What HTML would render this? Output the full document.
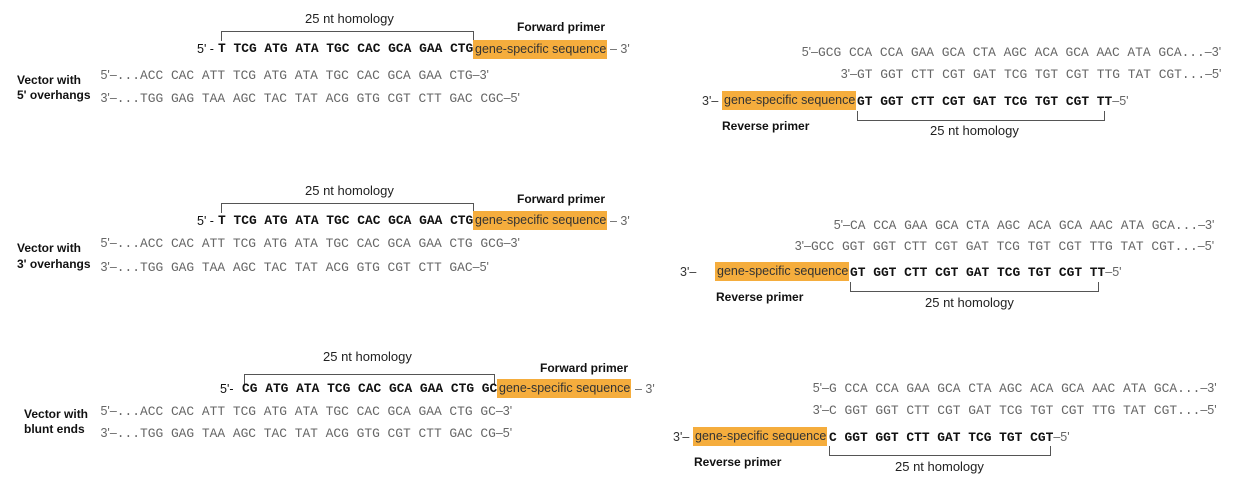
<!DOCTYPE html>
<html><head><meta charset="utf-8"><style>
html,body{margin:0;padding:0;background:#fff;}
body{width:1247px;height:480px;position:relative;overflow:hidden;font-family:"Liberation Sans",sans-serif;}
.t{position:absolute;white-space:pre;line-height:16px;font-size:12.5px;color:#444;}
.m{font-family:"Liberation Mono",monospace;font-size:12.9px;}
.g{color:#666;}
.b{font-weight:bold;color:#111;}
.lab{position:absolute;font-weight:bold;font-size:12px;color:#111;line-height:15px;white-space:pre;}
.box{position:absolute;background:#F5AD3D;color:#333;font-size:12.5px;line-height:19px;height:19px;white-space:pre;padding-left:2px;box-sizing:border-box;}
.br{position:absolute;border:1.3px solid #555;box-sizing:border-box;}
.brt{border-bottom:none;}
.brb{border-top:none;}
.h{position:absolute;font-size:13px;color:#222;white-space:pre;}
</style></head><body>

<!-- LEFT PANEL 1 -->
<div class="h" style="left:305px;top:11px">25 nt homology</div>
<div class="br brt" style="left:221px;top:31px;width:253px;height:10px"></div>
<div class="lab" style="left:517px;top:20px">Forward primer</div>
<div class="t" style="left:197px;top:41px;color:#111">5' - </div>
<div class="t m b" style="left:218px;top:41px">T TCG ATG ATA TGC CAC GCA GAA CTG</div>
<div class="box" style="left:473px;top:40px;width:134px">gene-specific sequence</div>
<div class="t g" style="left:610px;top:41px">– 3'</div>
<div class="t g" style="right:1107px;top:67px">5'–<span class="m">...</span></div>
<div class="t g" style="left:140px;top:67px"><span class="m">ACC CAC ATT TCG ATG ATA TGC CAC GCA GAA CTG</span>–3'</div>
<div class="t g" style="right:1107px;top:90px">3'–<span class="m">...</span></div>
<div class="t g" style="left:140px;top:90px"><span class="m">TGG GAG TAA AGC TAC TAT ACG GTG CGT CTT GAC CGC</span>–5'</div>
<div class="lab" style="left:17px;top:73px">Vector with</div>
<div class="lab" style="left:17px;top:88px">5' overhangs</div>

<!-- LEFT PANEL 2 -->
<div class="h" style="left:305px;top:183px">25 nt homology</div>
<div class="br brt" style="left:221px;top:203px;width:253px;height:10px"></div>
<div class="lab" style="left:517px;top:192px">Forward primer</div>
<div class="t" style="left:197px;top:213px;color:#111">5' - </div>
<div class="t m b" style="left:218px;top:213px">T TCG ATG ATA TGC CAC GCA GAA CTG</div>
<div class="box" style="left:473px;top:211px;width:134px">gene-specific sequence</div>
<div class="t g" style="left:610px;top:213px">– 3'</div>
<div class="t g" style="right:1107px;top:235px">5'–<span class="m">...</span></div>
<div class="t g" style="left:140px;top:235px"><span class="m">ACC CAC ATT TCG ATG ATA TGC CAC GCA GAA CTG GCG</span>–3'</div>
<div class="t g" style="right:1107px;top:259px">3'–<span class="m">...</span></div>
<div class="t g" style="left:140px;top:259px"><span class="m">TGG GAG TAA AGC TAC TAT ACG GTG CGT CTT GAC</span>–5'</div>
<div class="lab" style="left:17px;top:241px">Vector with</div>
<div class="lab" style="left:17px;top:257px">3' overhangs</div>

<!-- LEFT PANEL 3 -->
<div class="h" style="left:323px;top:349px">25 nt homology</div>
<div class="br brt" style="left:244px;top:374px;width:251px;height:10px"></div>
<div class="lab" style="left:540px;top:361px">Forward primer</div>
<div class="t" style="left:220px;top:381px;color:#111">5'-</div>
<div class="t m b" style="left:242px;top:381px">CG ATG ATA TCG CAC GCA GAA CTG GC</div>
<div class="box" style="left:497px;top:379px;width:134px">gene-specific sequence</div>
<div class="t g" style="left:635px;top:381px">– 3'</div>
<div class="t g" style="right:1107px;top:403px">5'–<span class="m">...</span></div>
<div class="t g" style="left:140px;top:403px"><span class="m">ACC CAC ATT TCG ATG ATA TGC CAC GCA GAA CTG GC</span>–3'</div>
<div class="t g" style="right:1107px;top:425px">3'–<span class="m">...</span></div>
<div class="t g" style="left:140px;top:425px"><span class="m">TGG GAG TAA AGC TAC TAT ACG GTG CGT CTT GAC CG</span>–5'</div>
<div class="lab" style="left:24px;top:407px">Vector with</div>
<div class="lab" style="left:24px;top:422px">blunt ends</div>

<!-- RIGHT PANEL 1 -->
<div class="t g" style="right:429px;top:44px">5'–</div>
<div class="t g" style="left:818px;top:44px"><span class="m">GCG CCA CCA GAA GCA CTA AGC ACA GCA AAC ATA GCA...</span>–3'</div>
<div class="t g" style="right:390px;top:66px">3'–</div>
<div class="t g" style="left:857px;top:66px"><span class="m">GT GGT CTT CGT GAT TCG TGT CGT TTG TAT CGT...</span>–5'</div>
<div class="t" style="left:702px;top:93px;color:#333">3'–</div>
<div class="box" style="left:722px;top:91px;width:134px">gene-specific sequence</div>
<div class="t m b" style="left:857px;top:93px">GT GGT CTT CGT GAT TCG TGT CGT TT<span style="font-family:'Liberation Sans';font-weight:normal;color:#666;font-size:12.5px">–5'</span></div>
<div class="br brb" style="left:857px;top:111px;width:248px;height:10px"></div>
<div class="lab" style="left:722px;top:119px">Reverse primer</div>
<div class="h" style="left:930px;top:123px">25 nt homology</div>

<!-- RIGHT PANEL 2 -->
<div class="t g" style="right:397px;top:217px">5'–</div>
<div class="t g" style="left:850px;top:217px"><span class="m">CA CCA GAA GCA CTA AGC ACA GCA AAC ATA GCA...</span>–3'</div>
<div class="t g" style="right:436px;top:238px">3'–</div>
<div class="t g" style="left:811px;top:238px"><span class="m">GCC GGT GGT CTT CGT GAT TCG TGT CGT TTG TAT CGT...</span>–5'</div>
<div class="t" style="left:680px;top:264px;color:#333">3'–</div>
<div class="box" style="left:715px;top:262px;width:134px">gene-specific sequence</div>
<div class="t m b" style="left:850px;top:264px">GT GGT CTT CGT GAT TCG TGT CGT TT<span style="font-family:'Liberation Sans';font-weight:normal;color:#666;font-size:12.5px">–5'</span></div>
<div class="br brb" style="left:850px;top:282px;width:249px;height:10px"></div>
<div class="lab" style="left:716px;top:290px">Reverse primer</div>
<div class="h" style="left:925px;top:295px">25 nt homology</div>

<!-- RIGHT PANEL 3 -->
<div class="t g" style="right:418px;top:380px">5'–</div>
<div class="t g" style="left:829px;top:380px"><span class="m">G CCA CCA GAA GCA CTA AGC ACA GCA AAC ATA GCA...</span>–3'</div>
<div class="t g" style="right:418px;top:402px">3'–</div>
<div class="t g" style="left:829px;top:402px"><span class="m">C GGT GGT CTT CGT GAT TCG TGT CGT TTG TAT CGT...</span>–5'</div>
<div class="t" style="left:673px;top:429px;color:#333">3'–</div>
<div class="box" style="left:693px;top:427px;width:134px">gene-specific sequence</div>
<div class="t m b" style="left:829px;top:429px">C GGT GGT CTT GAT TCG TGT CGT<span style="font-family:'Liberation Sans';font-weight:normal;color:#666;font-size:12.5px">–5'</span></div>
<div class="br brb" style="left:829px;top:446px;width:222px;height:10px"></div>
<div class="lab" style="left:694px;top:455px">Reverse primer</div>
<div class="h" style="left:895px;top:459px">25 nt homology</div>

</body></html>
